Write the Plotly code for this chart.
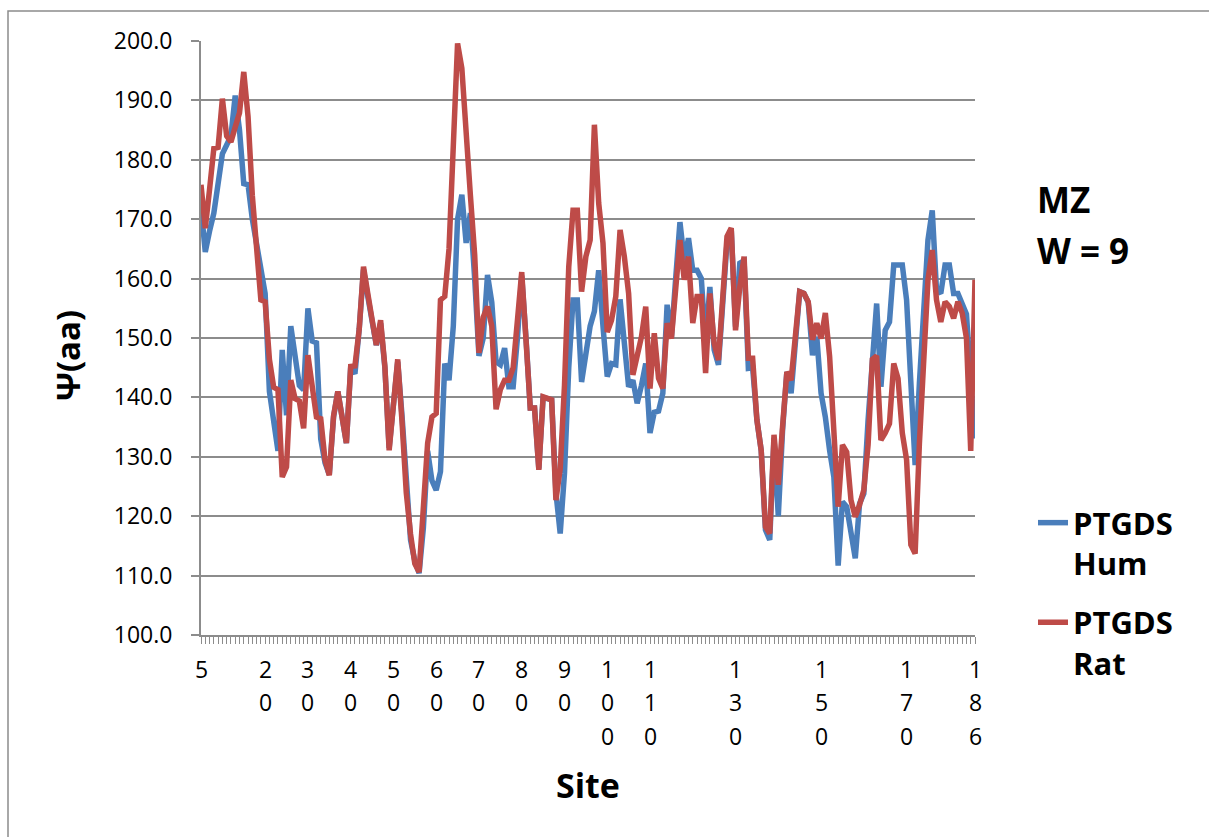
import plotly.graph_objects as go

sites = list(range(5, 187))

hum = [
    172, 164.5, 168, 171, 176,
    181, 182.5, 184, 190.8, 185, 176, 175.8, 170, 166, 161,
    157.5, 141, 136, 131, 148, 137, 152, 146.5, 142, 141.3,
    155, 149.5, 149.2, 133, 129, 127, 136.7, 141, 137, 132.3,
    145, 144, 151.5, 161.5, 157, 153, 148.8, 152.5, 145, 131.5,
    139.6, 146, 137, 125, 116, 112.5, 110.4, 118, 131, 126,
    124.4, 127.5, 145.7, 142.9, 152, 170, 174.1, 166, 171, 160,
    147, 150, 160.6, 156, 146, 145.5, 148.3, 141.8, 141.8, 150,
    160.5, 150, 138.2, 138.2, 128, 140, 139.8, 139.6, 124, 117.1,
    127.2, 145, 156.4, 156.4, 142.6, 148, 152, 154.5, 161.4, 152,
    143.5, 145.7, 145.5, 156.5, 149, 141.8, 142.9, 139, 142, 145.7,
    134, 137.5, 137.7, 140.7, 155.6, 150, 160, 169.5, 163.1, 166.8,
    161.4, 161.4, 160, 149, 158.6, 148, 145.5, 157, 166, 168.2,
    151.9, 162.6, 163, 144.9, 145, 136.2, 131.1, 117.7, 116, 133.2,
    120, 134.5, 144.3, 140.7, 150.8, 157.8, 157.5, 156, 147.1, 150.2,
    140.7, 136.7, 131.1, 126.6, 111.7, 122.4, 121.6, 117.1, 112.9, 122.1,
    123.8, 136.2, 147, 155.8, 141.8, 151.3, 152.7, 162.3, 162.3, 162.3,
    156.4, 142, 128.6, 142.4, 156, 166.5, 171.5, 158.1, 157.5, 162.3,
    162.3, 157.5, 157.5, 156, 154, 143, 133.1,
]

rat = [
    175.8, 168.5, 175, 181.9, 182.1,
    190.3, 184, 183, 185.5, 187.9, 194.8, 187.3, 174, 166, 156.4,
    156.1, 146.4, 141.7, 141.3, 126.6, 128.3, 142.9, 139.8, 139.4, 134.8,
    147.1, 141.8, 136.7, 136.4, 129.5, 126.9, 136.9, 141, 137, 132.3,
    145.2, 145.3, 151.5, 162, 157.5, 153, 148.8, 153, 145.2, 131.1,
    139.6, 146.4, 136, 124, 117, 112, 110.6, 121, 132.3, 136.7,
    137.3, 156.4, 157, 165, 180, 199.6, 195.4, 186, 174, 164,
    147.5, 153.5, 155.3, 152, 138, 141.3, 142.9, 142.9, 145, 153,
    161.1, 149.7, 138.2, 138.2, 127.8, 140.1, 139.8, 139.6, 122.7, 128,
    142, 162, 171.5, 171.5, 157.8, 163.7, 166.5, 185.9, 172.7, 166,
    151, 153, 157, 168.2, 163.7, 157.5, 143.8, 147.4, 150.2, 155.3,
    141.5, 150.8, 143.2, 141.5, 152.5, 149.9, 158, 166.5, 159.8, 163.7,
    152.5, 157, 157, 144.1, 157.5, 149.1, 146.3, 157, 167.1, 168.5,
    151.3, 158.6, 163.7, 146.6, 146.6, 136.2, 131.1, 118.2, 117.1, 133.7,
    125.3, 135.1, 144.3, 142.9, 150.8, 157.8, 157.5, 156.1, 149.7, 152.5,
    149.9, 154.2, 146.9, 134.5, 121.6, 132, 130.8, 122.7, 119.9, 121.9,
    124.4, 132, 146.4, 147, 132.8, 134, 135.6, 145.7, 143.2, 134,
    129.5, 115.2, 113.7, 132.3, 148, 159.8, 164.8, 156.4, 152.7, 156.1,
    155.3, 153.3, 156.1, 154.2, 150, 131, 159.8,
]

xtick_sites = [5, 20, 30, 40, 50, 60, 70, 80, 90, 100, 110, 130, 150, 170, 186]
xtick_labels = [str(s) for s in xtick_sites]
y_ticks = [100 + 10 * i for i in range(11)]

FONT = "Open Sans"
GRID = "#8c8c8c"

fig = go.Figure()
fig.add_trace(go.Scatter(x=sites, y=hum, mode="lines", name="PTGDS<br>Hum",
                         line=dict(color="#4A7EBB", width=5.5), legendgroup="a"))
fig.add_trace(go.Scatter(x=sites, y=rat, mode="lines", name="PTGDS<br>Rat",
                         line=dict(color="#BE4B48", width=5.5), legendgroup="b"))

W, H = 1209, 837
L, R, T, B = 201, 975, 41, 635


def px(xp):
    return (xp - L) / (R - L)


def py(yp):
    return (B - yp) / (B - T)


annotations = []
row_y = [668.5, 702.5, 736]
for s, lab in zip(xtick_sites, xtick_labels):
    for j, ch in enumerate(lab):
        annotations.append(dict(x=s, y=py(row_y[j]), xref="x", yref="paper",
                                text=ch, showarrow=False, xanchor="center",
                                yanchor="middle",
                                font=dict(family=FONT, size=23, color="black")))

annotations.append(dict(x=px(588), y=py(785), xref="paper", yref="paper",
                        text="<b>Site</b>", showarrow=False,
                        xanchor="center", yanchor="middle",
                        font=dict(family=FONT, size=34, color="black")))
annotations.append(dict(x=px(67), y=py(356), xref="paper", yref="paper",
                        text="<b>Ψ(aa)</b>", showarrow=False, textangle=-90,
                        xanchor="center", yanchor="middle",
                        font=dict(family=FONT, size=33, color="black")))
annotations.append(dict(x=px(1035), y=py(200), xref="paper", yref="paper",
                        text="<b>MZ</b>", showarrow=False, xanchor="left",
                        yanchor="middle",
                        font=dict(family=FONT, size=35, color="black")))
annotations.append(dict(x=px(1035), y=py(250), xref="paper", yref="paper",
                        text="<b>W = 9</b>", showarrow=False, xanchor="left",
                        yanchor="middle",
                        font=dict(family=FONT, size=35, color="black")))

fig.update_layout(
    width=W, height=H,
    margin=dict(l=L, r=W - R, t=T, b=H - B),
    paper_bgcolor="white", plot_bgcolor="white",
    font=dict(family=FONT, size=23, color="black"),
    showlegend=True,
    legend=dict(x=px(1033), y=py(496), xanchor="left", yanchor="top",
                font=dict(family=FONT, size=31, color="black", weight="bold"),
                valign="top", tracegroupgap=16, bgcolor="rgba(0,0,0,0)"),
    annotations=annotations,
    shapes=[dict(type="rect", xref="paper", yref="paper",
                 x0=px(8), x1=px(1214), y0=py(842), y1=py(11),
                 line=dict(color="#8c8c8c", width=1.5), fillcolor="rgba(0,0,0,0)",
                 layer="below")],
)

fig.update_xaxes(range=[5, 186], tickmode="linear", tick0=5, dtick=1,
                 ticks="outside", ticklen=7, tickwidth=1, tickcolor=GRID,
                 showticklabels=False, showgrid=False, zeroline=False,
                 showline=True, linecolor=GRID, linewidth=2)
fig.update_yaxes(range=[100, 200], tickmode="array", tickvals=y_ticks,
                 ticktext=[f"{v:.1f}" for v in y_ticks],
                 ticks="outside", ticklen=8, tickwidth=2, tickcolor=GRID,
                 ticklabelstandoff=14,
                 showgrid=True, gridcolor=GRID, gridwidth=2, zeroline=False,
                 showline=True, linecolor=GRID, linewidth=2,
                 tickfont=dict(family=FONT, size=23, color="black"))

fig.write_html("out.html")
